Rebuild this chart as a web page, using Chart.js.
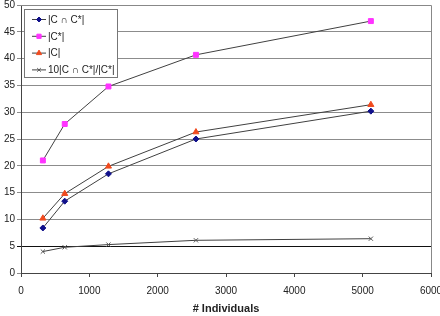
<!DOCTYPE html>
<html>
<head>
<meta charset="utf-8">
<script src="https://cdn.jsdelivr.net/npm/chart.js@4"></script>
<style>
  html, body { margin: 0; padding: 0; background: #fff; }
  #wrap { width: 440px; height: 316px; }
</style>
</head>
<body>
<div id="wrap"><canvas id="chart" width="440" height="316"></canvas></div>
<script>
// population sizes (# individuals)
const individuals = [320, 640, 1280, 2560, 5120]
const intersect = [8.4, 13.4, 18.5, 25.0, 30.2]     // |C ∩ C*|
const cStar = [21.0, 27.8, 34.8, 40.7, 47.0]        // |C*|
const cSize = [10.2, 14.8, 19.9, 26.3, 31.4]        // |C|
const ratio = [4.0, 4.8, 5.3, 6.1, 6.4]             // 10|C ∩ C*|/|C*|
const labels = ['|C ∩ C*|', '|C*|', '|C|', '10|C ∩ C*|/|C*|']
const xTicks = [0, 1000, 2000, 3000, 4000, 5000, 6000]
const yTicks = [0, 5, 10, 15, 20, 25, 30, 35, 40, 45, 50]

const FONT = 'Liberation Sans, Arial, sans-serif'
const toPoints = vals => vals.map((v, i) => ({ x: individuals[i], y: v }))

const series = [
    { label: labels[0], data: intersect, style: 'rectRot', color: '#10108a', radius: 3 },
    { label: labels[1], data: cStar, style: 'rect', color: '#ff33ff', radius: 3.5 },
    { label: labels[2], data: cSize, style: 'triangle', color: '#f04a1e', radius: 3.5 },
    { label: labels[3], data: ratio, style: 'crossRot', color: '#555', radius: 3 }
]

// box around the plot area + excel-like legend in the top-left corner
const frameAndLegend = {
    id: 'frameAndLegend',
    afterDraw(chart) {
        const { ctx, chartArea: a } = chart
        ctx.save()
        ctx.strokeStyle = '#888'
        ctx.lineWidth = 1
        ctx.beginPath()
        ctx.moveTo(a.left, a.top + 0.5)
        ctx.lineTo(a.right + 0.5, a.top + 0.5)
        ctx.lineTo(a.right + 0.5, a.bottom)
        ctx.stroke()

        // legend
        const bx = 24.5, by = 9.5, bw = 93, bh = 68
        ctx.fillStyle = '#fff'
        ctx.fillRect(bx, by, bw, bh)
        ctx.strokeStyle = '#777'
        ctx.strokeRect(bx, by, bw, bh)
        ctx.font = '10px ' + FONT
        ctx.textBaseline = 'middle'
        chart.data.datasets.forEach((ds, i) => {
            const y = 19 + i * 16.8
            ctx.strokeStyle = '#404040'
            ctx.beginPath()
            ctx.moveTo(32, y + 0.5)
            ctx.lineTo(46, y + 0.5)
            ctx.stroke()
            ctx.save()
            ctx.fillStyle = ds.pointBackgroundColor
            ctx.strokeStyle = ds.pointBorderColor
            Chart.helpers.drawPoint(ctx, {
                pointStyle: ds.pointStyle, radius: ds.pointRadius - 0.5, rotation: 0,
                borderWidth: 1
            }, 39, y + 0.5)
            ctx.restore()
            ctx.fillStyle = '#222'
            ctx.fillText(ds.label, 48, y + 1)
        })
        ctx.restore()
    }
}

new Chart(document.getElementById('chart'), {
    type: 'line',
    data: {
        datasets: series.map(s => ({
            label: s.label,
            data: toPoints(s.data),
            borderColor: '#404040',
            borderWidth: 1,
            pointStyle: s.style,
            pointRadius: s.radius,
            pointBackgroundColor: s.color,
            pointBorderColor: s.color,
            pointBorderWidth: 1,
            tension: 0
        }))
    },
    options: {
        responsive: false,
        animation: false,
        events: [],
        layout: { padding: { top: 5, right: 9, left: 0, bottom: 0 } },
        plugins: { legend: { display: false }, tooltip: { enabled: false } },
        scales: {
            x: {
                type: 'linear',
                min: 0, max: 6000,
                afterBuildTicks: s => { s.ticks = xTicks.map(v => ({ value: v })) },
                afterFit: s => { s.height = 43; s.paddingRight = 0; s.paddingLeft = 0 },
                grid: { drawOnChartArea: false, tickLength: 4, color: '#444' },
                border: { color: '#444' },
                ticks: {
                    font: { size: 10, family: FONT }, color: '#222', padding: 8, maxRotation: 0,
                    callback: v => String(v)
                },
                title: {
                    display: true, text: '# Individuals', color: '#222',
                    font: { size: 11, weight: 'bold', family: FONT }, padding: { top: 2, bottom: 0 }
                }
            },
            y: {
                min: 0, max: 50,
                afterBuildTicks: s => { s.ticks = yTicks.map(v => ({ value: v })) },
                afterFit: s => { s.width = 21; s.paddingTop = 0; s.paddingBottom = 0 },
                grid: {
                    tickLength: 4,
                    color: c => (c.tick && c.tick.value === 5) ? '#111' : '#8c8c8c'
                },
                border: { color: '#444' },
                ticks: { font: { size: 10, family: FONT }, color: '#222', padding: 2, callback: v => String(v) }
            }
        }
    },
    plugins: [frameAndLegend]
})
</script>
</body>
</html>
